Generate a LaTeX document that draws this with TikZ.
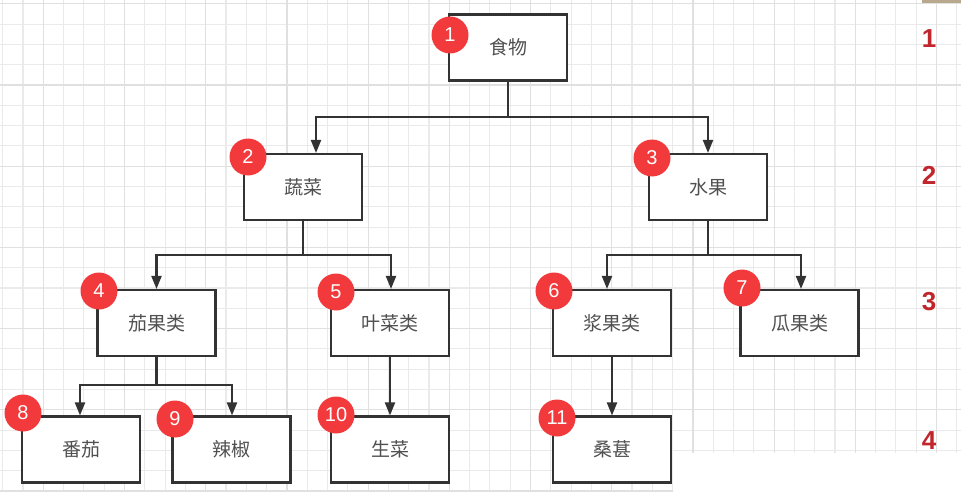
\documentclass[tikz,border=0pt]{standalone}
\usepackage{fontspec}
\setmainfont{Liberation Sans}
\newfontfamily\cjk{Noto Sans CJK SC}
\usetikzlibrary{arrows.meta}
\definecolor{gridthin}{HTML}{EAEAEA}
\definecolor{gridthick}{HTML}{E0E0E0}
\definecolor{edge}{HTML}{333333}
\definecolor{boxtext}{HTML}{505050}
\definecolor{badgered}{HTML}{F23A3C}
\definecolor{levelred}{HTML}{C0262C}
\definecolor{tanbar}{HTML}{B8A98C}
\begin{document}
\begin{tikzpicture}[x=1pt,y=-1pt,
  box/.style={draw=edge, line width=2.1pt, fill=white, minimum width=118pt, minimum height=66pt, inner sep=0pt, font=\cjk\fontsize{19}{19}\selectfont, text=boxtext},
  badge/.style={circle, fill=badgered, minimum size=37pt, inner sep=0pt, text=white, font=\fontsize{20}{20}\selectfont},
  level/.style={text=levelred, inner sep=0pt, font=\bfseries\fontsize{26}{26}\selectfont},
  conn/.style={draw=edge, line width=2.1pt},
  arr/.style={conn, -{Triangle[length=13pt,width=10pt]}}]
\useasboundingbox (0,0) rectangle (961,492);
\fill[white] (0,0) rectangle (961,492);
% grid
\foreach \i in {0,...,47} \draw[gridthin, line width=1.1pt] ({2.7+20.3*\i},0) -- ++(0,492);
\foreach \j in {0,...,24} \draw[gridthin, line width=1.1pt] (0,{3.8+20.3*\j}) -- ++(961,0);
\foreach \i in {0,...,11} \draw[gridthick, line width=1.2pt] ({43.3+81.2*\i},0) -- ++(0,492);
\foreach \j in {0,...,6} \draw[gridthick, line width=1.2pt] (0,{3.8+81.2*\j}) -- ++(961,0);
\fill[white] (673,453) rectangle (961,492);
\fill[tanbar] (922,0) rectangle (961,3);
% boxes
\node[box] (n1) at (508,47.5) {食物};
\node[box] (n2) at (303,187) {蔬菜};
\node[box] (n3) at (708,187) {水果};
\node[box] (n4) at (156.5,323) {茄果类};
\node[box] (n5) at (390,323) {叶菜类};
\node[box] (n6) at (612,323) {浆果类};
\node[box] (n7) at (799.5,323) {瓜果类};
\node[box] (n8) at (81,449.5) {番茄};
\node[box] (n9) at (231.5,449.5) {辣椒};
\node[box] (n10) at (390,449.5) {生菜};
\node[box] (n11) at (612,449.5) {桑葚};
% junction levels
\coordinate (y1) at (0,117);
\coordinate (y2) at (0,255);
\coordinate (y3) at (0,385);
% connectors
\draw[arr] (n1.south) -- (n1.south |- y1) -| ([xshift=13pt]n2.north);
\draw[arr] (n1.south |- y1) -| (n3.north);
\draw[arr] (n2.south) -- (n2.south |- y2) -| (n4.north);
\draw[arr] (n2.south |- y2) -| ([xshift=1pt]n5.north);
\draw[arr] (n3.south) -- (n3.south |- y2) -| ([xshift=-5pt]n6.north);
\draw[arr] (n3.south |- y2) -| ([xshift=1.5pt]n7.north);
\draw[arr] (n4.south) -- (n4.south |- y3) -| ([xshift=-1pt]n8.north);
\draw[arr] (n4.south |- y3) -| ([xshift=0.5pt]n9.north);
\draw[arr] (n5.south) -- (n10.north);
\draw[arr] (n6.south) -- (n11.north);
% badges
\node[badge] (b1) at (450,35) {1};
\node[badge] (b2) at (248,157) {2};
\node[badge] (b3) at (652,158) {3};
\node[badge] (b4) at (99,291) {4};
\node[badge] (b5) at (336,292) {5};
\node[badge] (b6) at (554,291) {6};
\node[badge] (b7) at (742,288) {7};
\node[badge] (b8) at (23,413) {8};
\node[badge] (b9) at (175,419) {9};
\node[badge] (b10) at (336,415) {10};
\node[badge] (b11) at (557,418) {11};
% level labels
\node[level] (l1) at (929,39) {1};
\node[level] (l2) at (929,175) {2};
\node[level] (l3) at (929,302) {3};
\node[level] (l4) at (929,441) {4};
\end{tikzpicture}
\end{document}
